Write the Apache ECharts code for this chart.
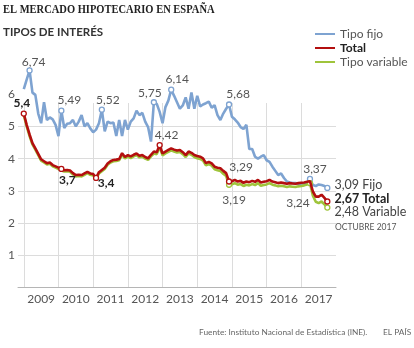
<!DOCTYPE html>
<html><head><meta charset="utf-8">
<script src="https://cdn.jsdelivr.net/npm/echarts@6/dist/echarts.min.js"></script>
<style>html,body{margin:0;padding:0;background:#fff}#c{width:414px;height:348px}</style>
</head><body><div id="c"></div>
<script>
// ---- data ----
const years = ['2009','2010','2011','2012','2013','2014','2015','2016','2017'];
// monthly, Jan 2009 .. Oct 2017
const fijo = [
 6.16, 6.45, 6.74, 6.05, 5.98, 5.40, 5.10, 5.75, 5.20, 5.28, 5.22, 5.05,
 4.70, 5.49, 4.95, 5.08, 5.10, 5.20, 5.00, 5.15, 5.35, 5.00, 5.10, 4.94,
 4.82, 4.90, 5.10, 5.52, 4.85, 5.15, 5.10, 5.12, 4.70, 5.20, 4.70, 5.20,
 4.90, 5.15, 5.25, 5.49, 5.35, 5.42, 5.15, 4.98, 4.53, 5.75, 5.70, 5.45,
 5.10, 5.60, 5.80, 6.14, 5.95, 5.75, 5.55, 5.65, 5.90, 5.55, 6.05, 5.55,
 5.95, 5.62, 5.68, 5.72, 5.77, 5.58, 5.66, 5.35, 5.20, 5.40, 5.55, 5.68,
 5.30, 5.22, 5.12, 4.98, 4.92, 5.05, 4.30, 4.30, 4.06, 4.00, 4.06, 4.11,
 3.95, 3.90, 3.75, 3.62, 3.49, 3.54, 3.40, 3.29, 3.26, 3.24, 3.24, 3.22,
 3.18, 3.22, 3.24, 3.37, 3.18, 3.15, 3.20, 3.18, 3.15, 3.09
];
const total = [
 5.40, 5.05, 4.75, 4.48, 4.32, 4.15, 3.98, 3.92, 3.86, 3.88, 3.80, 3.76,
 3.72, 3.68, 3.64, 3.65, 3.63, 3.55, 3.49, 3.50, 3.49, 3.54, 3.59, 3.54,
 3.52, 3.40, 3.58, 3.65, 3.72, 3.85, 3.92, 3.96, 3.97, 3.99, 4.17, 4.05,
 4.11, 4.07, 4.12, 4.16, 4.09, 4.11, 4.05, 4.01, 4.12, 4.22, 4.20, 4.42,
 4.16, 4.22, 4.27, 4.32, 4.28, 4.25, 4.27, 4.20, 4.11, 4.22, 4.18, 4.11,
 4.08, 4.06, 4.01, 3.86, 3.90, 3.85, 3.75, 3.72, 3.70, 3.62, 3.55, 3.29,
 3.30, 3.34, 3.29, 3.31, 3.25, 3.29, 3.27, 3.31, 3.28, 3.34, 3.26, 3.28,
 3.30, 3.34, 3.29, 3.27, 3.24, 3.26, 3.24, 3.22, 3.24, 3.23, 3.22, 3.24,
 3.25, 3.26, 3.28, 3.30, 2.98, 2.82, 2.82, 2.88, 2.78, 2.67
];
const variable = [
 5.36, 5.00, 4.70, 4.44, 4.28, 4.11, 3.94, 3.88, 3.82, 3.84, 3.76, 3.72,
 3.68, 3.63, 3.60, 3.61, 3.59, 3.51, 3.45, 3.46, 3.45, 3.50, 3.55, 3.50,
 3.48, 3.36, 3.54, 3.61, 3.68, 3.81, 3.88, 3.92, 3.93, 3.95, 4.12, 4.01,
 4.06, 4.02, 4.07, 4.11, 4.04, 4.06, 4.00, 3.96, 4.07, 4.16, 4.14, 4.36,
 4.10, 4.16, 4.21, 4.26, 4.22, 4.19, 4.21, 4.14, 4.05, 4.16, 4.12, 4.05,
 4.01, 3.99, 3.94, 3.79, 3.83, 3.78, 3.67, 3.64, 3.62, 3.53, 3.46, 3.19,
 3.20, 3.24, 3.19, 3.21, 3.15, 3.19, 3.17, 3.21, 3.18, 3.24, 3.16, 3.18,
 3.20, 3.24, 3.19, 3.17, 3.14, 3.16, 3.14, 3.12, 3.14, 3.13, 3.12, 3.14,
 3.15, 3.17, 3.20, 3.24, 2.85, 2.66, 2.62, 2.67, 2.58, 2.48
];
const yTicks = [1, 2, 3, 4, 5, 6];

// ---- categories (Nov 2008 .. Jan 2018, padding around the data) ----
const months = [];
for (let y = 2008; y <= 2018; y++) for (let m = 1; m <= 12; m++) {
  const k = y * 12 + m;
  if (k >= 2008 * 12 + 11 && k <= 2018 * 12 + 1) months.push(y + '-' + m);
}
const PAD = 2;

// ---- styling / annotation layout ----
const C_FIJO = '#7ea3d1', C_TOTAL = '#b30f0f', C_VAR = '#9fc43b';
const FONT = 'Lato';
const fmt = (v, d) => v.toFixed(d).replace('.', ',');
const grayLab = {color: '#555', fontSize: 12, fontFamily: FONT};
const boldLab = {color: '#222', fontSize: 12, fontFamily: FONT, fontWeight: 'bold'};

const fijoMarks = {
  2: {d: 2, off: [4, -8], st: grayLab},
  13: {d: 2, off: [8, -11], st: grayLab},
  27: {d: 2, off: [6, -10], st: grayLab},
  45: {d: 2, off: [-4, -9], st: grayLab},
  51: {d: 2, off: [6, -11], st: grayLab},
  71: {d: 2, off: [9, -10], st: grayLab},
  99: {d: 2, off: [5, -10], st: grayLab},
  105: {d: 2, end: ' Fijo', off: [0, -3], st: Object.assign({}, grayLab, {fontSize: 12.5, color: '#444'})}
};
const totalMarks = {
  0: {d: 1, off: [-2, -10], st: boldLab},
  13: {d: 1, off: [6, 11], st: boldLab},
  25: {d: 1, off: [10, 5], st: boldLab},
  47: {d: 2, off: [7, -10], st: grayLab},
  71: {d: 2, off: [12, -14], st: grayLab},
  105: {d: 2, end: ' Total', off: [0, -3], st: Object.assign({}, boldLab, {fontSize: 12.5})}
};
const varMarks = {
  71: {d: 2, off: [5, 15], st: grayLab},
  99: {d: 2, off: [-12, 20], st: grayLab},
  105: {d: 2, end: ' Variable', off: [0, 4.5], st: Object.assign({}, grayLab, {fontSize: 12.5, color: '#444'})}
};

function build(values, marks, color) {
  const out = [];
  for (let i = 0; i < PAD; i++) out.push('-');
  values.forEach((v, i) => {
    const mk = marks[i];
    if (!mk) { out.push(v); return; }
    const txt = fmt(v, mk.d) + (mk.end || '');
    out.push({
      value: v, symbol: 'circle', symbolSize: 5,
      itemStyle: {color: '#fff', borderColor: color, borderWidth: 1.3},
      label: Object.assign({show: true, formatter: txt,
        position: mk.end ? 'right' : 'inside', distance: 4, offset: mk.off}, mk.st)
    });
  });
  return out;
}

function lineSeries(name, values, marks, color, z) {
  return {
    name, type: 'line', xAxisIndex: 0, yAxisIndex: 0,
    data: build(values, marks, color),
    symbol: 'none', showSymbol: true, showAllSymbol: true,
    lineStyle: {color, width: 2.6}, itemStyle: {color},
    z, zlevel: 0, emphasis: {disabled: true}, silent: true
  };
}

const chart = echarts.init(document.getElementById('c'), null, {renderer: 'canvas'});
chart.setOption({
  animation: false,
  backgroundColor: '#fff',
  title: [
    {text: 'TIPOS DE INTERÉS', left: 3, top: 26, padding: 0,
     textStyle: {fontFamily: FONT, fontWeight: 'bold', fontSize: 11.5, color: '#333'}}
  ],
  legend: {
    orient: 'vertical', left: 315, top: 28, padding: 0,
    itemWidth: 20, itemHeight: 2, itemGap: 2, icon: 'rect',
    textStyle: {fontFamily: FONT, fontSize: 12, color: '#555', lineHeight: 12},
    data: [
      {name: 'Tipo fijo'},
      {name: 'Total', textStyle: {fontWeight: 'bold', color: '#222'}},
      {name: 'Tipo variable'}
    ]
  },
  grid: [
    {left: 18, right: 78, top: 62, bottom: 60.5},
    {left: 18, right: 78, top: 103, bottom: 60.5}
  ],
  xAxis: [
    {gridIndex: 0, type: 'category', data: months, boundaryGap: false,
     axisLine: {show: false}, axisTick: {show: false}, axisLabel: {show: false}, splitLine: {show: false}},
    {gridIndex: 1, type: 'category', data: months, boundaryGap: false,
     axisLine: {show: true, lineStyle: {color: '#b5b5b5', width: 1}},
     axisTick: {show: false},
     axisLabel: {
       interval: (i, v) => v.endsWith('-7') && years.includes(v.split('-')[0]),
       formatter: v => v.split('-')[0],
       color: '#555', fontFamily: FONT, fontSize: 12, margin: 6
     },
     splitLine: {show: true, interval: (i, v) => v.endsWith('-1') && v !== '2018-1',
       lineStyle: {color: '#dcdcdc', width: 1}}}
  ],
  yAxis: [
    {gridIndex: 0, type: 'value', min: 0, max: 7, interval: 1,
     axisLine: {show: false}, axisTick: {show: false},
     axisLabel: {formatter: v => yTicks.includes(v) ? String(v) : '', color: '#555',
       fontFamily: FONT, fontSize: 12, margin: 3},
     splitLine: {show: true, lineStyle: {width: 1,
       color: ['transparent', '#dcdcdc', '#dcdcdc', '#dcdcdc', '#dcdcdc', '#dcdcdc', 'transparent', 'transparent']}}},
    {gridIndex: 1, type: 'value', min: 0, max: 1, show: false}
  ],
  series: [
    lineSeries('Tipo fijo', fijo, fijoMarks, C_FIJO, 3),
    lineSeries('Tipo variable', variable, varMarks, C_VAR, 4),
    lineSeries('Total', total, totalMarks, C_TOTAL, 5)
  ],
  graphic: [
    {type: 'text', x: 3, y: 3, scaleX: 0.84,
     style: {text: 'EL MERCADO HIPOTECARIO EN ESPAÑA', fill: '#222', font: 'bold 12.5px "Liberation Serif"'}},
    {type: 'text', left: 335, top: 223, style: {text: 'OCTUBRE 2017', fill: '#555', font: '8.5px Lato'}},
    {type: 'text', left: 199, top: 328, style: {text: 'Fuente: Instituto Nacional de Estadística (INE).', fill: '#666', font: '8.3px Lato'}},
    {type: 'text', left: 383, top: 328, style: {text: 'EL PAÍS', fill: '#666', font: '8.3px Lato'}}
  ]
});
</script></body></html>
